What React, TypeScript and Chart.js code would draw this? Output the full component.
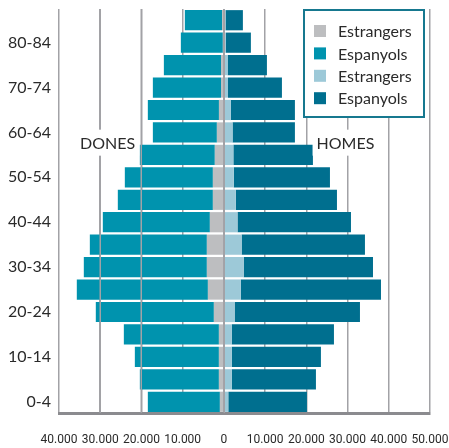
import React, { useEffect, useRef } from "react";
import { Chart, registerables } from "chart.js";

Chart.register(...registerables);

const AGE_GROUPS = ["0-4", "5-9", "10-14", "15-19", "20-24", "25-29", "30-34", "35-39", "40-44", "45-49", "50-54", "55-59", "60-64", "65-69", "70-74", "75-79", "80-84", "85+"];
const DONES_ESTRANGERS = [970, 1210, 1210, 1210, 2430, 3880, 4130, 4130, 3400, 2670, 2670, 2200, 1700, 1200, 700, 700, 250, 450];
const DONES_ESPANYOLS = [17480, 19180, 20390, 23060, 28640, 31800, 29850, 28390, 25970, 23060, 21360, 18190, 15530, 17250, 16530, 13860, 10190, 9020];
const HOMES_ESTRANGERS = [1070, 1900, 1900, 1900, 2600, 4100, 4800, 4300, 3300, 2900, 2400, 2300, 2100, 1700, 1000, 900, 500, 400];
const HOMES_ESPANYOLS = [19080, 20430, 21640, 24800, 30410, 34010, 31370, 29920, 27530, 24530, 23330, 19300, 15130, 15530, 13080, 9540, 6050, 4210];
const X_MIN = -40000;
const X_MAX = 50000;
const X_STEP = 10000;
const OVER_LINES = [-30000, -20000, 0];
const SERIES_LABELS = ["Estrangers", "Espanyols", "Estrangers", "Espanyols"];
const SIDE_LABELS = ["DONES", "HOMES"];

const C_DONES_EST = "#bdbec0";
const C_DONES_ESP = "#0093ae";
const C_HOMES_EST = "#9dc9d8";
const C_HOMES_ESP = "#006f8f";
const GRID = "#a2a2a6";
const TEXT = "#2a2a2a";
const FONT = "Lato, 'Open Sans', sans-serif";
const NARROW = "Roboto, sans-serif";

const fmt = (v: number) => {
  const a = Math.abs(v);
  if (a === 0) return "0";
  return String(a).replace(/\B(?=(\d{3})+(?!\d))/g, ".");
};

const overlayPlugin = {
  id: "overlay",
  afterDatasetsDraw(chart: any) {
    const { ctx, chartArea, scales } = chart;
    const x = scales.x;
    ctx.save();
    ctx.strokeStyle = GRID;
    ctx.lineWidth = 1.5;
    for (const v of OVER_LINES) {
      const px = Math.round(x.getPixelForValue(v)) + 0.25;
      ctx.beginPath();
      ctx.moveTo(px, chartArea.top);
      ctx.lineTo(px, chartArea.bottom);
      ctx.stroke();
    }
    ctx.restore();
  },
  afterDraw(chart: any) {
    const { ctx, chartArea, scales } = chart;
    const x = scales.x;
    const y = scales.y;
    ctx.save();
    // side labels
    ctx.font = `16px ${FONT}`;
    ctx.textAlign = "center";
    ctx.textBaseline = "middle";
    const ly = (y.getPixelForValue(12) + y.getPixelForValue(11)) / 2 - 1;
    const sides = [
      { t: SIDE_LABELS[0], v: -28200 },
      { t: SIDE_LABELS[1], v: 29500 },
    ];
    for (const s of sides) {
      const px = x.getPixelForValue(s.v);
      const w = ctx.measureText(s.t).width + 8;
      ctx.fillStyle = "#ffffff";
      ctx.fillRect(px - w / 2, ly - 13, w, 26);
      ctx.fillStyle = TEXT;
      ctx.fillText(s.t, px, ly + 1);
    }
    // legend
    const bx = chartArea.right - 126;
    const by = chartArea.top + 1;
    const bw = 120;
    const bh = 107;
    ctx.fillStyle = "#ffffff";
    ctx.fillRect(bx, by, bw, bh);
    ctx.strokeStyle = "#16788f";
    ctx.lineWidth = 2;
    ctx.strokeRect(bx, by, bw, bh);
    ctx.textAlign = "left";
    ctx.font = `16px ${FONT}`;
    chart.data.datasets.forEach((ds: any, i: number) => {
      const cy = by + 21 + i * 22.4;
      ctx.fillStyle = ds.backgroundColor;
      ctx.fillRect(bx + 10, cy - 6, 12, 12);
      ctx.fillStyle = TEXT;
      ctx.fillText(ds.label, bx + 34, cy + 1);
    });
    ctx.restore();
  },
};

export default function App() {
  const ref = useRef<HTMLCanvasElement | null>(null);
  useEffect(() => {
    document.body.style.margin = "0";
    if (!ref.current) return;
    const chart = new Chart(ref.current, {
      type: "bar",
      data: {
        labels: AGE_GROUPS,
        datasets: [
          { label: SERIES_LABELS[0], data: DONES_ESTRANGERS.map((v) => -v), backgroundColor: C_DONES_EST },
          { label: SERIES_LABELS[1], data: DONES_ESPANYOLS.map((v) => -v), backgroundColor: C_DONES_ESP },
          { label: SERIES_LABELS[2], data: HOMES_ESTRANGERS, backgroundColor: C_HOMES_EST },
          { label: SERIES_LABELS[3], data: HOMES_ESPANYOLS, backgroundColor: C_HOMES_ESP },
        ],
      },
      options: {
        indexAxis: "y",
        animation: false,
        responsive: true,
        maintainAspectRatio: false,
        datasets: { bar: { barPercentage: 0.9, categoryPercentage: 1.0 } },
        layout: { padding: { top: 9, right: 19, left: 0, bottom: 0 } },
        plugins: { legend: { display: false }, tooltip: { enabled: false } },
        scales: {
          x: {
            type: "linear",
            stacked: true,
            min: X_MIN,
            max: X_MAX,
            ticks: {
              stepSize: X_STEP,
              callback: (v: any) => fmt(Number(v)),
              font: { family: NARROW, size: 12 },
              color: TEXT,
              padding: 20,
              maxRotation: 0,
              autoSkip: false,
            },
            grid: { color: GRID, lineWidth: 1.5, drawTicks: false },
            border: { display: true, color: "#8b8b8f", width: 3 },
            afterFit: (s: any) => {
              s.height = 35;
              s.paddingLeft = 0;
              s.paddingRight = 0;
            },
          },
          y: {
            type: "category",
            stacked: true,
            reverse: true,
            ticks: {
              autoSkip: false,
              callback: function (this: any, _v: any, i: number) {
                return i % 2 === 0 && i < 17 ? AGE_GROUPS[i] : "";
              },
              font: { family: FONT, size: 16 },
              color: TEXT,
              padding: 8,
            },
            grid: { display: false, drawTicks: false },
            border: { display: false },
            afterFit: (s: any) => {
              s.width = 59;
              s.paddingTop = 0;
              s.paddingBottom = 0;
            },
          },
        },
      },
      plugins: [overlayPlugin],
    } as any);
    return () => chart.destroy();
  }, []);
  return (
    <div style={{ position: "relative", width: 449, height: 448 }}>
      <canvas ref={ref} />
    </div>
  );
}
